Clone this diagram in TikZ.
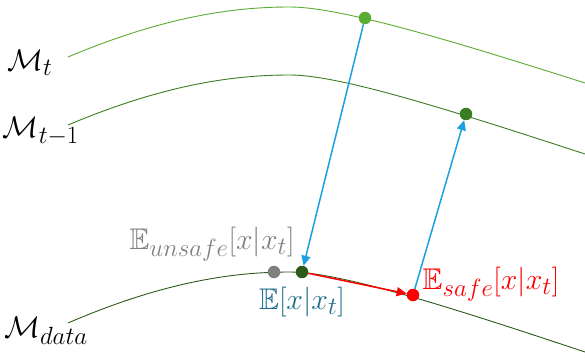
\documentclass[tikz,border=0pt]{standalone}
\usepackage{amssymb}
\usetikzlibrary{arrows.meta}
\definecolor{gA}{HTML}{5AAC32}
\definecolor{gB}{HTML}{3A7D22}
\definecolor{gC}{HTML}{2D5A1B}
\definecolor{blueA}{HTML}{1BA1E2}
\definecolor{tealA}{HTML}{1F6E8C}
\definecolor{greyA}{HTML}{808080}
\newcommand{\biglab}[1]{\scalebox{1.2}{\Huge$#1$}}
\tikzset{
  manifold/.style={line width=0.9pt},
  dot/.style={circle, inner sep=0pt, minimum size=12.5pt},
  lab/.style={inner sep=0pt},
  bluearrow/.style={draw=blueA, line width=1.5pt, -{Triangle[length=10pt,width=9pt]}},
  redarrow/.style={draw=red, line width=1.5pt, -{Triangle[length=10pt,width=9pt]}},
}
\begin{document}
\begin{tikzpicture}[x=1pt,y=-1pt]
\useasboundingbox (0,0) rectangle (585,358);
% manifolds
\draw[manifold, gA] (68,57) .. controls (170,14) and (240,7) .. (290,7) .. controls (340,7) and (450,40) .. (585,83);
\draw[manifold, gB] (68,125) .. controls (170,82) and (240,75) .. (290,75) .. controls (340,75) and (450,110) .. (585,154);
\draw[manifold, gC] (68,323) .. controls (170,279) and (240,272) .. (290,272) .. controls (340,272) and (450,307) .. (585,352);
% dots
\node[dot, fill=gA] (pt) at (365,18) {};
\node[dot, fill=gB] (pm) at (466,114) {};
\node[dot, fill=greyA] (pu) at (274,272) {};
\node[dot, fill=gC] (pe) at (302,272) {};
\node[dot, fill=red] (ps) at (413,295) {};
% arrows
\draw[bluearrow] (pt) -- (pe);
\draw[bluearrow] (ps) -- (pm);
\draw[redarrow] (pe) -- (ps);
% labels
\node[lab] (lt) at (30,63) {\biglab{\mathcal{M}_t}};
\node[lab] (ltm) at (41,131) {\biglab{\mathcal{M}_{t-1}}};
\node[lab] (ld) at (46,331) {\biglab{\mathcal{M}_{data}}};
\node[lab, text=greyA] (lu) at (212,244) {\biglab{\mathbb{E}_{unsafe}[x|x_t]}};
\node[lab, text=tealA] (le) at (302,302) {\biglab{\mathbb{E}[x|x_t]}};
\node[lab, text=red] (ls) at (491,284) {\biglab{\mathbb{E}_{safe}[x|x_t]}};
\end{tikzpicture}
\end{document}
